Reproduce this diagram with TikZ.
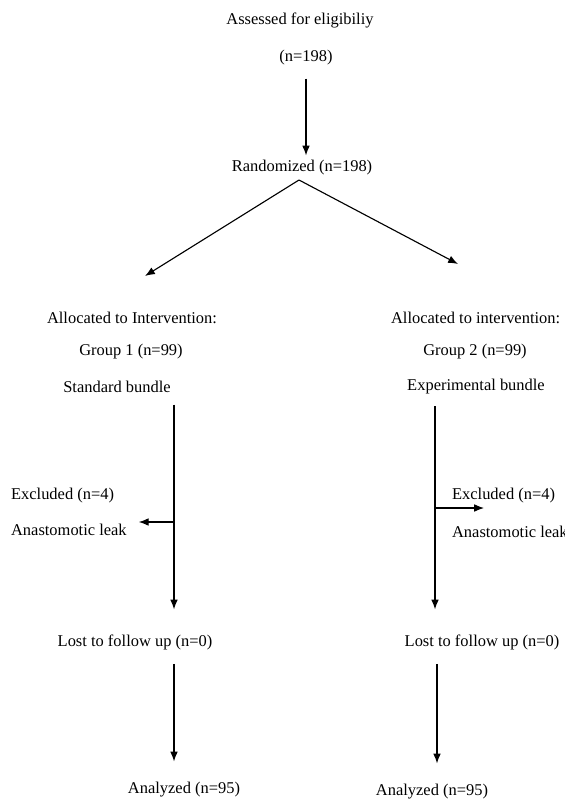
\documentclass[tikz,border=0pt]{standalone}
\usepackage{fontspec}
\setmainfont{Liberation Serif}
\usetikzlibrary{arrows.meta,calc,positioning}
\tikzset{>=Latex}

\begin{document}
\begin{tikzpicture}[x=0.025cm,y=-0.025cm]

	% Definitions.
	\tikzstyle{every node}=[
		font=\fontsize{11.7}{14}\selectfont,
		inner sep=2pt,
		%text height=1ex,
		%text depth=.25ex,
	]
	\def\myarrow{Latex[width=5.5pt,length=7pt]};
	\tikzstyle{flow}=[draw, line width=0.8pt, -{\myarrow}]
	\tikzstyle{leftlabel}=[anchor=west]

	\useasboundingbox (0,0) rectangle (564,800);

	% ---------- Enrolment ---------

	\node (assessed) at (300,20) {Assessed for eligibiliy};
	\node (assessedN) at (306,58) {(n=198)};
	\node (random) at (302,168) {Randomized (n=198)};

	\draw[flow, shorten <=0.25cm, shorten >=0.05cm] (assessedN) -- (assessedN |- random.north);

	% ---------- Allocation ---------

	\node (alloc1) at (132,318) {Allocated to Intervention:};
	\node (group1) at (131,352) {Group 1 (n=99)};
	\node (bundle1) at (117,387) {Standard bundle};

	\node[leftlabel] (alloc2) at (388,318) {Allocated to intervention:};
	\node (group2) at (475,352) {Group 2 (n=99)};
	\node (bundle2) at (476,387) {Experimental bundle};

	\coordinate (apex) at (299,180);
	\coordinate (alloc1tip) at (145,276);
	\coordinate (alloc2tip) at (458,264);
	\draw[flow] (apex) -- (alloc1tip);
	\draw[flow] (apex) -- (alloc2tip);

	% ---------- Exclusions ---------

	\coordinate (col1) at (174,0);
	\coordinate (col2) at (435,0);

	\node[leftlabel] (excl1) at (8,496) {Excluded (n=4)};
	\node[leftlabel] (leak1) at (8,530) {Anastomotic leak};
	\node[leftlabel] (excl2) at (449,496) {Excluded (n=4)};
	\node[leftlabel] (leak2) at (449,532) {Anastomotic leak};

	\node (lost1) at (135,642) {Lost to follow up (n=0)};
	\node (lost2) at (482,642) {Lost to follow up (n=0)};

	\draw[flow, shorten <=0.22cm, shorten >=0.55cm] (bundle1.south -| col1) -- (lost1.north -| col1);
	\draw[flow, shorten <=0.22cm, shorten >=0.55cm] (bundle2.south -| col2) -- (lost2.north -| col2);

	\coordinate (split1) at (174,522);
	\coordinate (split2) at (435,508);
	\draw[flow] (split1) -- ($(split1 -| leak1.east)+(9,0)$);
	\draw[flow] (split2) -- ($(split2 -| excl2.west)+(35,0)$);

	% ---------- Analysis ---------

	\node (analyzed1) at (184,790) {Analyzed (n=95)};
	\node (analyzed2) at (432,792) {Analyzed (n=95)};

	\draw[flow, shorten <=0.28cm, shorten >=0.45cm] (lost1.south -| col1) -- (analyzed1.north -| col1);
	\draw[flow, shorten <=0.28cm, shorten >=0.45cm] ($(lost2.south -| col2)+(2,0)$) -- ($(analyzed2.north -| col2)+(2,0)$);

\end{tikzpicture}
\end{document}
